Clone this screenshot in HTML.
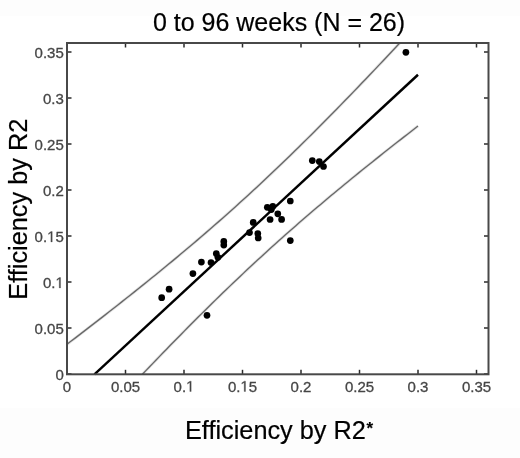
<!DOCTYPE html>
<html><head><meta charset="utf-8"><style>
html,body{margin:0;padding:0;background:#fff;}
svg{display:block;will-change:transform;}
text{font-family:"Liberation Sans",sans-serif;font-variant-ligatures:none;font-feature-settings:"liga" 0;}
</style></head><body>
<svg width="520" height="458" viewBox="0 0 520 458">
<rect width="520" height="458" fill="#fff"/>
<rect x="0" y="0" width="520" height="16" fill="#fdfdfd"/>
<rect x="0" y="408" width="520" height="50" fill="#fdfdfd"/>
<g>
<g>
<path d="M67.00,344.28 L71.21,341.07 L75.42,337.85 L79.64,334.62 L83.85,331.39 L88.06,328.15 L92.27,324.90 L96.49,321.64 L100.70,318.38 L104.91,315.10 L109.12,311.82 L113.34,308.52 L117.55,305.22 L121.76,301.90 L125.97,298.57 L130.19,295.24 L134.40,291.88 L138.61,288.52 L142.82,285.15 L147.04,281.76 L151.25,278.35 L155.46,274.94 L159.67,271.50 L163.89,268.06 L168.10,264.59 L172.31,261.11 L176.52,257.62 L180.73,254.10 L184.95,250.57 L189.16,247.02 L193.37,243.46 L197.58,239.87 L201.80,236.26 L206.01,232.63 L210.22,228.99 L214.43,225.32 L218.65,221.63 L222.86,217.91 L227.07,214.18 L231.28,210.42 L235.50,206.65 L239.71,202.84 L243.92,199.02 L248.13,195.17 L252.35,191.30 L256.56,187.40 L260.77,183.49 L264.98,179.55 L269.19,175.58 L273.41,171.59 L277.62,167.58 L281.83,163.55 L286.04,159.49 L290.26,155.42 L294.47,151.32 L298.68,147.19 L302.89,143.05 L307.11,138.89 L311.32,134.71 L315.53,130.50 L319.74,126.28 L323.96,122.04 L328.17,117.78 L332.38,113.50 L336.59,109.20 L340.81,104.89 L345.02,100.56 L349.23,96.21 L353.44,91.85 L357.66,87.48 L361.87,83.09 L366.08,78.68 L370.29,74.27 L374.50,69.84 L378.72,65.39 L382.93,60.94 L387.14,56.47 L391.35,51.99 L395.57,47.50 L399.78,43.00" fill="none" stroke="#e6e6e6" stroke-width="3.0"/>
<path d="M142.39,374.30 L145.88,370.65 L149.37,367.00 L152.86,363.36 L156.34,359.74 L159.83,356.12 L163.32,352.52 L166.81,348.92 L170.30,345.34 L173.79,341.77 L177.28,338.21 L180.77,334.66 L184.25,331.12 L187.74,327.60 L191.23,324.09 L194.72,320.59 L198.21,317.10 L201.70,313.63 L205.19,310.17 L208.68,306.73 L212.16,303.30 L215.65,299.89 L219.14,296.49 L222.63,293.10 L226.12,289.73 L229.61,286.38 L233.10,283.04 L236.59,279.72 L240.07,276.41 L243.56,273.12 L247.05,269.84 L250.54,266.58 L254.03,263.34 L257.52,260.11 L261.01,256.90 L264.50,253.70 L267.98,250.52 L271.47,247.35 L274.96,244.21 L278.45,241.07 L281.94,237.96 L285.43,234.85 L288.92,231.77 L292.41,228.70 L295.89,225.64 L299.38,222.60 L302.87,219.57 L306.36,216.56 L309.85,213.56 L313.34,210.57 L316.83,207.60 L320.32,204.64 L323.80,201.69 L327.29,198.76 L330.78,195.84 L334.27,192.93 L337.76,190.04 L341.25,187.15 L344.74,184.28 L348.23,181.41 L351.71,178.56 L355.20,175.72 L358.69,172.89 L362.18,170.07 L365.67,167.25 L369.16,164.45 L372.65,161.66 L376.14,158.87 L379.62,156.10 L383.11,153.33 L386.60,150.57 L390.09,147.81 L393.58,145.07 L397.07,142.33 L400.56,139.60 L404.05,136.88 L407.53,134.16 L411.02,131.45 L414.51,128.75 L418.00,126.05" fill="none" stroke="#e6e6e6" stroke-width="3.0"/>
<path d="M67.00,344.28 L71.21,341.07 L75.42,337.85 L79.64,334.62 L83.85,331.39 L88.06,328.15 L92.27,324.90 L96.49,321.64 L100.70,318.38 L104.91,315.10 L109.12,311.82 L113.34,308.52 L117.55,305.22 L121.76,301.90 L125.97,298.57 L130.19,295.24 L134.40,291.88 L138.61,288.52 L142.82,285.15 L147.04,281.76 L151.25,278.35 L155.46,274.94 L159.67,271.50 L163.89,268.06 L168.10,264.59 L172.31,261.11 L176.52,257.62 L180.73,254.10 L184.95,250.57 L189.16,247.02 L193.37,243.46 L197.58,239.87 L201.80,236.26 L206.01,232.63 L210.22,228.99 L214.43,225.32 L218.65,221.63 L222.86,217.91 L227.07,214.18 L231.28,210.42 L235.50,206.65 L239.71,202.84 L243.92,199.02 L248.13,195.17 L252.35,191.30 L256.56,187.40 L260.77,183.49 L264.98,179.55 L269.19,175.58 L273.41,171.59 L277.62,167.58 L281.83,163.55 L286.04,159.49 L290.26,155.42 L294.47,151.32 L298.68,147.19 L302.89,143.05 L307.11,138.89 L311.32,134.71 L315.53,130.50 L319.74,126.28 L323.96,122.04 L328.17,117.78 L332.38,113.50 L336.59,109.20 L340.81,104.89 L345.02,100.56 L349.23,96.21 L353.44,91.85 L357.66,87.48 L361.87,83.09 L366.08,78.68 L370.29,74.27 L374.50,69.84 L378.72,65.39 L382.93,60.94 L387.14,56.47 L391.35,51.99 L395.57,47.50 L399.78,43.00" fill="none" stroke="#686868" stroke-width="1.35"/>
<path d="M142.39,374.30 L145.88,370.65 L149.37,367.00 L152.86,363.36 L156.34,359.74 L159.83,356.12 L163.32,352.52 L166.81,348.92 L170.30,345.34 L173.79,341.77 L177.28,338.21 L180.77,334.66 L184.25,331.12 L187.74,327.60 L191.23,324.09 L194.72,320.59 L198.21,317.10 L201.70,313.63 L205.19,310.17 L208.68,306.73 L212.16,303.30 L215.65,299.89 L219.14,296.49 L222.63,293.10 L226.12,289.73 L229.61,286.38 L233.10,283.04 L236.59,279.72 L240.07,276.41 L243.56,273.12 L247.05,269.84 L250.54,266.58 L254.03,263.34 L257.52,260.11 L261.01,256.90 L264.50,253.70 L267.98,250.52 L271.47,247.35 L274.96,244.21 L278.45,241.07 L281.94,237.96 L285.43,234.85 L288.92,231.77 L292.41,228.70 L295.89,225.64 L299.38,222.60 L302.87,219.57 L306.36,216.56 L309.85,213.56 L313.34,210.57 L316.83,207.60 L320.32,204.64 L323.80,201.69 L327.29,198.76 L330.78,195.84 L334.27,192.93 L337.76,190.04 L341.25,187.15 L344.74,184.28 L348.23,181.41 L351.71,178.56 L355.20,175.72 L358.69,172.89 L362.18,170.07 L365.67,167.25 L369.16,164.45 L372.65,161.66 L376.14,158.87 L379.62,156.10 L383.11,153.33 L386.60,150.57 L390.09,147.81 L393.58,145.07 L397.07,142.33 L400.56,139.60 L404.05,136.88 L407.53,134.16 L411.02,131.45 L414.51,128.75 L418.00,126.05" fill="none" stroke="#686868" stroke-width="1.35"/>
<line x1="94.43" y1="374.3" x2="418.00" y2="74.74" stroke="#000" stroke-width="2.45"/>
<circle cx="405.9" cy="52.3" r="3.35" fill="#000"/>
<circle cx="161.7" cy="297.7" r="3.35" fill="#000"/>
<circle cx="169.1" cy="289.2" r="3.35" fill="#000"/>
<circle cx="192.9" cy="273.6" r="3.35" fill="#000"/>
<circle cx="201.4" cy="262.1" r="3.35" fill="#000"/>
<circle cx="211.0" cy="262.5" r="3.35" fill="#000"/>
<circle cx="216.3" cy="253.6" r="3.35" fill="#000"/>
<circle cx="217.9" cy="257.3" r="3.35" fill="#000"/>
<circle cx="223.8" cy="241.4" r="3.35" fill="#000"/>
<circle cx="223.8" cy="245.1" r="3.35" fill="#000"/>
<circle cx="207.0" cy="315.3" r="3.35" fill="#000"/>
<circle cx="249.5" cy="232.6" r="3.35" fill="#000"/>
<circle cx="253.2" cy="222.4" r="3.35" fill="#000"/>
<circle cx="257.8" cy="233.6" r="3.35" fill="#000"/>
<circle cx="258.2" cy="238.0" r="3.35" fill="#000"/>
<circle cx="267.3" cy="207.3" r="3.35" fill="#000"/>
<circle cx="272.8" cy="206.3" r="3.35" fill="#000"/>
<circle cx="271.3" cy="209.6" r="3.35" fill="#000"/>
<circle cx="270.1" cy="219.5" r="3.35" fill="#000"/>
<circle cx="277.8" cy="213.8" r="3.35" fill="#000"/>
<circle cx="281.6" cy="219.4" r="3.35" fill="#000"/>
<circle cx="290.3" cy="201.0" r="3.35" fill="#000"/>
<circle cx="290.3" cy="240.6" r="3.35" fill="#000"/>
<circle cx="312.3" cy="160.6" r="3.35" fill="#000"/>
<circle cx="319.3" cy="161.6" r="3.35" fill="#000"/>
<circle cx="323.5" cy="166.5" r="3.35" fill="#000"/>
</g>
<g stroke="#2a2a2a" stroke-width="1.5">
<line x1="67.00" y1="374.3" x2="67.00" y2="369.8" />
<line x1="67.00" y1="43" x2="67.00" y2="47.5" />
<line x1="67" y1="374.00" x2="71.5" y2="374.00" />
<line x1="488.5" y1="374.00" x2="484.0" y2="374.00" />
<line x1="125.50" y1="374.3" x2="125.50" y2="369.8" />
<line x1="125.50" y1="43" x2="125.50" y2="47.5" />
<line x1="67" y1="328.00" x2="71.5" y2="328.00" />
<line x1="488.5" y1="328.00" x2="484.0" y2="328.00" />
<line x1="184.00" y1="374.3" x2="184.00" y2="369.8" />
<line x1="184.00" y1="43" x2="184.00" y2="47.5" />
<line x1="67" y1="282.00" x2="71.5" y2="282.00" />
<line x1="488.5" y1="282.00" x2="484.0" y2="282.00" />
<line x1="242.50" y1="374.3" x2="242.50" y2="369.8" />
<line x1="242.50" y1="43" x2="242.50" y2="47.5" />
<line x1="67" y1="236.00" x2="71.5" y2="236.00" />
<line x1="488.5" y1="236.00" x2="484.0" y2="236.00" />
<line x1="301.00" y1="374.3" x2="301.00" y2="369.8" />
<line x1="301.00" y1="43" x2="301.00" y2="47.5" />
<line x1="67" y1="190.00" x2="71.5" y2="190.00" />
<line x1="488.5" y1="190.00" x2="484.0" y2="190.00" />
<line x1="359.50" y1="374.3" x2="359.50" y2="369.8" />
<line x1="359.50" y1="43" x2="359.50" y2="47.5" />
<line x1="67" y1="144.00" x2="71.5" y2="144.00" />
<line x1="488.5" y1="144.00" x2="484.0" y2="144.00" />
<line x1="418.00" y1="374.3" x2="418.00" y2="369.8" />
<line x1="418.00" y1="43" x2="418.00" y2="47.5" />
<line x1="67" y1="98.00" x2="71.5" y2="98.00" />
<line x1="488.5" y1="98.00" x2="484.0" y2="98.00" />
<line x1="476.50" y1="374.3" x2="476.50" y2="369.8" />
<line x1="476.50" y1="43" x2="476.50" y2="47.5" />
<line x1="67" y1="52.00" x2="71.5" y2="52.00" />
<line x1="488.5" y1="52.00" x2="484.0" y2="52.00" />
</g>
<rect x="67" y="43" width="421.5" height="331.3" fill="none" stroke="#484848" stroke-width="2"/>
<g font-size="15" fill="#464646" stroke="#464646" stroke-width="0.3">
<text x="67.00" y="391.5" text-anchor="middle">0</text>
<text x="63.8" y="379.90" text-anchor="end">0</text>
<text x="125.50" y="391.5" text-anchor="middle">0.05</text>
<text x="63.8" y="333.90" text-anchor="end">0.05</text>
<text x="184.00" y="391.5" text-anchor="middle">0. </text>
<text x="63.8" y="287.90" text-anchor="end">0. </text>
<path transform="translate(186.08,391.50) scale(0.007324,-0.007324)" d="M515 0V1237L197 1010V1180L530 1409H696V0Z" stroke-width="41.0"/>
<path transform="translate(55.46,287.90) scale(0.007324,-0.007324)" d="M515 0V1237L197 1010V1180L530 1409H696V0Z" stroke-width="41.0"/>
<text x="242.50" y="391.5" text-anchor="middle">0. 5</text>
<text x="63.8" y="241.90" text-anchor="end">0. 5</text>
<path transform="translate(240.41,391.50) scale(0.007324,-0.007324)" d="M515 0V1237L197 1010V1180L530 1409H696V0Z" stroke-width="41.0"/>
<path transform="translate(47.12,241.90) scale(0.007324,-0.007324)" d="M515 0V1237L197 1010V1180L530 1409H696V0Z" stroke-width="41.0"/>
<text x="301.00" y="391.5" text-anchor="middle">0.2</text>
<text x="63.8" y="195.90" text-anchor="end">0.2</text>
<text x="359.50" y="391.5" text-anchor="middle">0.25</text>
<text x="63.8" y="149.90" text-anchor="end">0.25</text>
<text x="418.00" y="391.5" text-anchor="middle">0.3</text>
<text x="63.8" y="103.90" text-anchor="end">0.3</text>
<text x="476.50" y="391.5" text-anchor="middle">0.35</text>
<text x="63.8" y="57.90" text-anchor="end">0.35</text>
</g>
<text x="279" y="31.3" font-size="25" text-anchor="middle" fill="#000" stroke="#000" stroke-width="0.2">0 to 96 weeks (N = 26)</text>
<text x="279" y="438.5" font-size="25.3" text-anchor="middle" fill="#000" stroke="#000" stroke-width="0.2">Efficiency by R2<tspan font-size="17" font-weight="bold" dy="-5" dx="0.5">*</tspan></text>
<text transform="translate(27,209.2) rotate(-90)" x="0" y="0" font-size="25.3" text-anchor="middle" fill="#000" stroke="#000" stroke-width="0.2">Efficiency by R2</text>
</g>
</svg>
</body></html>
